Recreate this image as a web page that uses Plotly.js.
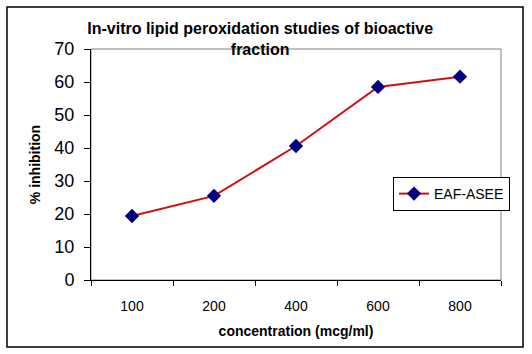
<!DOCTYPE html>
<html>
<head>
<meta charset="utf-8">
<script src="https://cdn.plot.ly/plotly-3.0.1.min.js"></script>
<style>html,body{margin:0;padding:0;background:#fff;}#chart{width:532px;height:354px;}</style>
</head>
<body>
<div id="chart"></div>
<script>
const categories = ["100", "200", "400", "600", "800"];
const inhibition = [19.4, 25.5, 40.6, 58.5, 61.6];
const seriesName = "EAF-ASEE";
const yTicks = [0, 10, 20, 30, 40, 50, 60, 70];

const FONT = "Arial, 'Liberation Sans', sans-serif";

const trace = {
  x: categories,
  y: inhibition,
  name: seriesName,
  type: "scatter",
  mode: "lines+markers",
  line: {color: "#d01010", width: 2},
  marker: {symbol: "diamond", size: 11, color: "#000080", line: {color: "#000080", width: 0}},
  showlegend: true
};

const layout = {
  width: 532, height: 354,
  margin: {l: 91, r: 31, t: 49, b: 74},
  paper_bgcolor: "#ffffff",
  plot_bgcolor: "#ffffff",
  font: {family: FONT, color: "#000000"},
  title: {
    text: "<b>In-vitro lipid peroxidation studies of bioactive<br>fraction</b>",
    font: {family: FONT, size: 16, color: "#000000"},
    x: 0.489, xanchor: "center", xref: "container",
    y: 0.903, yanchor: "top", yref: "container"
  },
  xaxis: {
    type: "category",
    range: [-0.5, 4.5],
    showline: true, linecolor: "#000000", linewidth: 1,
    ticks: "outside", tickson: "boundaries", ticklen: 5, tickcolor: "#000000", tickwidth: 1,
    ticklabelstandoff: 13,
    tickfont: {family: FONT, size: 14, color: "#000000"},
    showgrid: false, zeroline: false,
    title: {text: "<b>concentration (mcg/ml)</b>", font: {family: FONT, size: 14, color: "#000000"}, standoff: 13}
  },
  yaxis: {
    range: [0, 70],
    tickvals: yTicks,
    showline: true, linecolor: "#000000", linewidth: 1,
    ticks: "outside", ticklen: 6, tickcolor: "#000000", tickwidth: 1,
    ticklabelstandoff: 6,
    tickfont: {family: FONT, size: 18, color: "#000000"},
    showgrid: false, zeroline: false,
    title: {text: "<b>% inhibition</b>", font: {family: FONT, size: 14, color: "#000000"}, standoff: 10}
  },
  legend: {
    x: 0.7366, xanchor: "left", y: 0.4459, yanchor: "top",
    bgcolor: "#ffffff", bordercolor: "#000000", borderwidth: 1,
    font: {family: FONT, size: 14, color: "#000000"},
    itemwidth: 30
  },
  shapes: [
    {type: "rect", xref: "paper", yref: "paper", x0: 0, x1: 1, y0: 0, y1: 1,
     line: {color: "#808080", width: 1}, layer: "below"},
    {type: "rect", xref: "paper", yref: "paper", x0: -0.2049, x1: 1.0537, y0: -0.29, y1: 1.1818,
     line: {color: "#000000", width: 1.5}, layer: "below"}
  ]
};

Plotly.newPlot("chart", [trace], layout, {displayModeBar: false, staticPlot: true});
</script>
</body>
</html>
